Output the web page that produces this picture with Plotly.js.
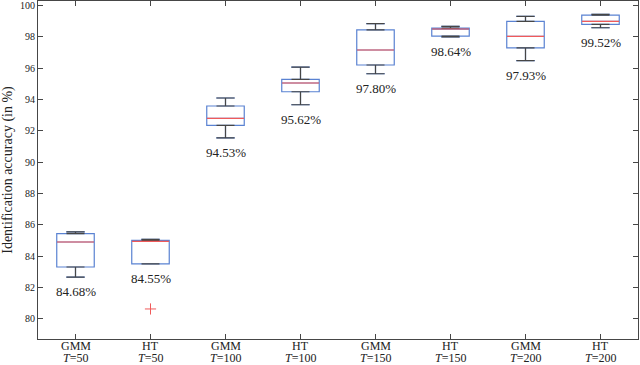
<!DOCTYPE html>
<html>
<head>
<meta charset="utf-8">
<script src="https://cdn.plot.ly/plotly-3.0.1.min.js"></script>
<style>
body{margin:0;background:#fff}
#myDiv{width:640px;height:365px}
</style>
</head>
<body>
<div id="myDiv"></div>
<script>
var methods=["GMM","HT","GMM","HT","GMM","HT","GMM","HT"]
var windows=["50","50","100","100","150","150","200","200"]
var upper=[85.54,85.07,94.10,96.08,98.85,98.68,99.32,99.44]
var q3=[85.43,85.00,93.59,95.29,98.45,98.57,99.00,99.40]
var med=[84.90,84.94,92.80,95.06,97.17,98.51,98.04,99.00]
var q1=[83.30,83.50,92.35,94.50,96.21,98.06,97.30,98.80]
var lower=[82.66,83.50,91.55,93.67,95.65,98.00,96.49,98.59]
var labels=["84.68%","84.55%","94.53%","95.62%","97.80%","98.64%","97.93%","99.52%"]
var outX=[1]
var outY=[80.62]

var xs=[]
for (i=0;i<methods.length;i++){ xs.push(i) }

var serif='"Liberation Serif", "DejaVu Serif", serif'
var boxBlue='rgb(90,130,210)'
var darkLine='rgb(70,70,70)'
var redLine='rgb(240,90,90)'
var txt='#222'

var boxes={
	type:'box',
	x:xs,
	q1:q1,
	median:med,
	q3:q3,
	lowerfence:lower,
	upperfence:upper,
	width:0.5,
	whiskerwidth:0.5,
	line:{color:boxBlue,width:1.2},
	fillcolor:'rgba(0,0,0,0)',
	hoverinfo:'skip',
	showlegend:false
}

// whiskers drawn again in dark grey on top of the blue ones
var topWhisk={
	type:'scatter',mode:'markers',x:xs,y:q3,
	marker:{size:0.1,color:'rgba(0,0,0,0)'},
	error_y:{type:'data',symmetric:false,
		array:upper.map(function(v,k){return v-q3[k]}),
		arrayminus:upper.map(function(){return 0}),
		color:darkLine,thickness:1.2,width:9},
	showlegend:false,hoverinfo:'skip'
}
var lowWhisk={
	type:'scatter',mode:'markers',x:xs,y:q1,
	marker:{size:0.1,color:'rgba(0,0,0,0)'},
	error_y:{type:'data',symmetric:false,
		array:lower.map(function(){return 0}),
		arrayminus:lower.map(function(v,k){return q1[k]-v}),
		color:darkLine,thickness:1.2,width:9},
	showlegend:false,hoverinfo:'skip'
}
var medians={
	type:'scatter',mode:'markers',x:xs,y:med,
	marker:{symbol:'line-ew',size:26.5,line:{color:redLine,width:1.2}},
	showlegend:false,hoverinfo:'skip'
}
var outliers={
	type:'scatter',mode:'markers',x:outX,y:outY,
	marker:{symbol:'cross-thin',size:8,line:{color:redLine,width:1}},
	showlegend:false,hoverinfo:'skip'
}

var notes=[]
for (i=0;i<labels.length;i++){
	notes.push({x:xs[i],y:lower[i],text:labels[i],showarrow:false,
		yanchor:'top',yshift:-5,font:{family:serif,size:13,color:txt}})
	// two-line category label under the axis
	notes.push({x:xs[i],xref:'x',y:0,yref:'paper',text:methods[i],showarrow:false,
		yanchor:'top',yshift:1,borderpad:0,font:{family:serif,size:12,color:txt}})
	notes.push({x:xs[i],xref:'x',y:0,yref:'paper',text:'<i>T</i>='+windows[i],showarrow:false,
		yanchor:'top',yshift:-11,borderpad:0,font:{family:serif,size:12,color:txt}})
}

var layout={
	width:640,height:365,
	margin:{l:38,r:2,t:1,b:26},
	paper_bgcolor:'white',
	plot_bgcolor:'white',
	showlegend:false,
	annotations:notes,
	xaxis:{
		range:[-0.5,7.5],
		tickvals:xs,showticklabels:false,
		ticks:'inside',ticklen:5,tickcolor:darkLine,
		showline:true,linecolor:darkLine,linewidth:1,mirror:'ticks',
		showgrid:false,zeroline:false
	},
	yaxis:{
		range:[78.7,100.3],
		tickvals:[80,82,84,86,88,90,92,94,96,98,100],
		ticks:'inside',ticklen:5,tickcolor:darkLine,
		showline:true,linecolor:darkLine,linewidth:1,mirror:'ticks',
		showgrid:false,zeroline:false,
		tickfont:{family:serif,size:10,color:txt},
		title:{text:'Identification accuracy (in %)',standoff:5,
			font:{family:serif,size:14,color:txt}}
	}
}

Plotly.newPlot('myDiv',[boxes,topWhisk,lowWhisk,medians,outliers],layout,{displayModeBar:false})
</script>
</body>
</html>
